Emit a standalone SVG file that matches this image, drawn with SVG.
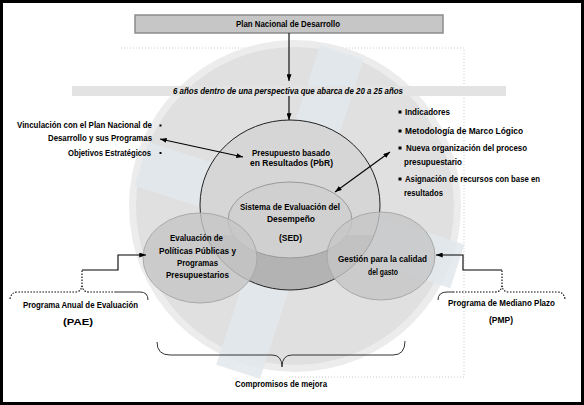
<svg xmlns="http://www.w3.org/2000/svg" width="584" height="405" viewBox="0 0 584 405">
<style>
text{font-family:"Liberation Sans Narrow","Liberation Sans",Arial,sans-serif;font-weight:bold;font-size:8.5px;fill:#000}
.c{text-anchor:middle}
.e{text-anchor:end}
.ln{stroke:#000;stroke-width:1.1;fill:none}
.dt{stroke:#000;stroke-width:1.1;fill:none;stroke-dasharray:1.5 1.5}
.br{stroke:#333;stroke-width:1;fill:none}
</style>
<defs>
<marker id="ah" viewBox="0 0 8 6" refX="8" refY="3" markerWidth="7" markerHeight="5" orient="auto-start-reverse" markerUnits="userSpaceOnUse"><path d="M0,0 L8,3 L0,6 z" fill="#000"/></marker>
<clipPath id="pbrclip"><ellipse cx="290" cy="205" rx="90" ry="85"/></clipPath>
</defs>
<rect x="0" y="0" width="584" height="405" fill="#fff"/>
<g id="background">
<path d="M121,48 H464 V377 H287" fill="none" stroke="#cccccc" stroke-dasharray="1 2"/>
<circle cx="295" cy="206" r="166" fill="#ececec"/>
<circle cx="295" cy="206" r="159" fill="#e0e0e0"/>
<g transform="translate(290,212) rotate(18)" fill="#e2e8ec" fill-opacity="0.85">
<rect x="-23" y="-168" width="46" height="336"/>
<rect x="-156" y="-23" width="332" height="46"/>
</g>
<rect x="72" y="86" width="434" height="10" fill="#e3e3e3"/>
</g>
<rect x="1.5" y="1.5" width="581" height="402" fill="none" stroke="#000" stroke-width="3"/>
<g id="title">
<rect x="135" y="15" width="308" height="18" fill="#c6c6c6" stroke="#8c8c8c" stroke-width="1.5"/>
<text class="c" x="288" y="27" textLength="104" lengthAdjust="spacingAndGlyphs">Plan Nacional de Desarrollo</text>
</g>
<g id="horizonte">
<text class="c" x="288" y="94" font-style="italic" textLength="230" lengthAdjust="spacingAndGlyphs">6 años dentro de una perspectiva que abarca de 20 a 25 años</text>
</g>
<g id="pbr">
<ellipse cx="290" cy="205" rx="90" ry="85" fill="#d6d6d6"/>
<rect x="195" y="235" width="190" height="60" fill="#b3b3b3" clip-path="url(#pbrclip)"/>
<ellipse cx="290" cy="205" rx="90" ry="85" fill="none" stroke="#222" stroke-width="1"/>
<text class="c" x="291" y="156" textLength="78" lengthAdjust="spacingAndGlyphs">Presupuesto basado</text>
<text class="c" x="291.5" y="166" textLength="83" lengthAdjust="spacingAndGlyphs">en Resultados (PbR)</text>
</g>
<g id="sed">
<ellipse cx="290" cy="220" rx="62" ry="38" fill="#d0d0d0" stroke="#9a9a9a" stroke-width="1"/>
<text class="c" x="290" y="210" textLength="100" lengthAdjust="spacingAndGlyphs">Sistema de Evaluación del</text>
<text class="c" x="291" y="221.5" textLength="48" lengthAdjust="spacingAndGlyphs">Desempeño</text>
<text class="c" x="290.5" y="241" textLength="23" lengthAdjust="spacingAndGlyphs">(SED)</text>
</g>
<g id="evaluacion">
<ellipse cx="200" cy="258" rx="57" ry="45" fill="#c6c6c6" fill-opacity="0.8" stroke="#a9a9a9" stroke-width="1"/>
<text class="c" x="196.5" y="240.5" textLength="53" lengthAdjust="spacingAndGlyphs">Evaluación de</text>
<text class="c" x="197.5" y="254" textLength="77" lengthAdjust="spacingAndGlyphs">Políticas Públicas y</text>
<text class="c" x="197.5" y="266" textLength="41" lengthAdjust="spacingAndGlyphs">Programas</text>
<text class="c" x="197.5" y="278" textLength="63" lengthAdjust="spacingAndGlyphs">Presupuestarios</text>
</g>
<g id="gestion">
<ellipse cx="381" cy="256" rx="54" ry="44" fill="#c6c6c6" fill-opacity="0.8" stroke="#a9a9a9" stroke-width="1"/>
<text class="c" x="382.5" y="261.5" textLength="89" lengthAdjust="spacingAndGlyphs">Gestión para la calidad</text>
<text class="c" x="383" y="275" textLength="30" lengthAdjust="spacingAndGlyphs">del gasto</text>
</g>
<g id="vinculacion">
<text class="e" x="152" y="128" textLength="135" lengthAdjust="spacingAndGlyphs">Vinculación con el Plan Nacional de</text>
<text class="e" x="152" y="141" textLength="104" lengthAdjust="spacingAndGlyphs">Desarrollo y sus Programas</text>
<text class="e" x="151" y="156" textLength="83" lengthAdjust="spacingAndGlyphs">Objetivos Estratégicos</text>
<rect x="159.5" y="124.5" width="2" height="2" fill="#000"/>
<rect x="159.5" y="152" width="2" height="2" fill="#000"/>
</g>
<g id="herramientas">
<rect x="398.5" y="110.5" width="3" height="3" fill="#000"/>
<text x="405" y="115" textLength="45" lengthAdjust="spacingAndGlyphs">Indicadores</text>
<rect x="398.5" y="129.5" width="3" height="3" fill="#000"/>
<text x="405" y="134" textLength="118" lengthAdjust="spacingAndGlyphs">Metodología de Marco Lógico</text>
<rect x="398.5" y="146.5" width="3" height="3" fill="#000"/>
<text x="406" y="151" textLength="121" lengthAdjust="spacingAndGlyphs">Nueva organización del proceso</text>
<text x="404" y="165" textLength="58" lengthAdjust="spacingAndGlyphs">presupuestario</text>
<rect x="398.5" y="177.5" width="3" height="3" fill="#000"/>
<text x="405" y="182" textLength="135" lengthAdjust="spacingAndGlyphs">Asignación de recursos con base en</text>
<text x="404" y="196" textLength="39" lengthAdjust="spacingAndGlyphs">resultados</text>
</g>
<g id="pae">
<text class="c" x="80.5" y="308" textLength="115" lengthAdjust="spacingAndGlyphs">Programa Anual de Evaluación</text>
<text class="c" x="78" y="325" textLength="30" lengthAdjust="spacingAndGlyphs">(PAE)</text>
</g>
<g id="pmp">
<text class="c" x="501.5" y="306" textLength="107" lengthAdjust="spacingAndGlyphs">Programa de Mediano Plazo</text>
<text class="c" x="501" y="323" textLength="24" lengthAdjust="spacingAndGlyphs">(PMP)</text>
</g>
<g id="compromisos">
<text class="c" x="281" y="387" textLength="92" lengthAdjust="spacingAndGlyphs">Compromisos de mejora</text>
</g>
<g id="connectors">
<line class="ln" x1="289" y1="33" x2="289" y2="81" marker-end="url(#ah)"/>
<line class="ln" x1="289" y1="96" x2="289" y2="120" marker-end="url(#ah)"/>
<line class="ln" x1="160" y1="139" x2="243" y2="157" marker-start="url(#ah)" marker-end="url(#ah)"/>
<line class="ln" x1="390" y1="152" x2="335" y2="192" marker-start="url(#ah)" marker-end="url(#ah)"/>
<path class="dt" d="M82,287 V270"/>
<path class="ln" d="M82,270 H118 V255 H146" marker-end="url(#ah)"/>
<path class="dt" d="M502,287 V270"/>
<path class="ln" d="M502,270 H463 V255 H436" marker-end="url(#ah)"/>
<path class="dt" d="M10,299 Q11,292 18,292 H75 Q81,292 82,286 Q83,292 89,292 H116"/>
<path class="br" d="M116,292 H140 Q148,292 148,300"/>
<path class="br" d="M438,300 Q438,292 447,292 H453"/>
<path class="dt" d="M453,292 H495 Q501,292 502,286 Q503,292 509,292 H557 Q564,292 565,299"/>
<path class="br" d="M157,342 Q157,355 170,355 H272 Q282,355 282,367 Q282,355 292,355 H393 Q405,355 405,341"/>
</g>
</svg>
